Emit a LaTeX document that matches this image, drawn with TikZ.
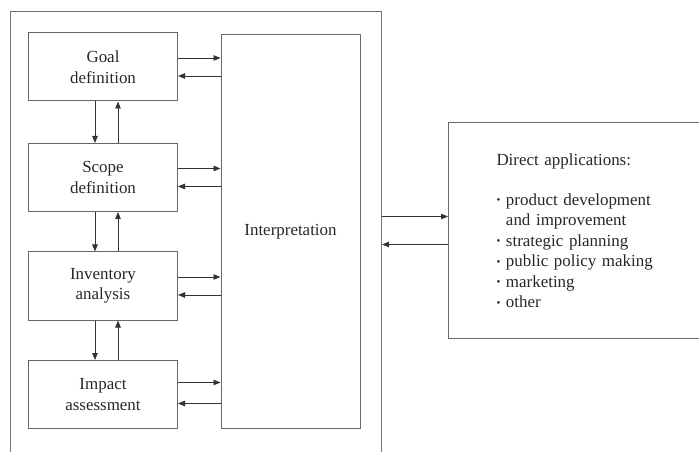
\documentclass[tikz,border=0pt]{standalone}
\usepackage{fontspec}
\setmainfont{Liberation Serif}
\usetikzlibrary{arrows.meta, positioning, calc}
\tikzset{
  stage/.style={rectangle, draw=black!60, line width=1bp, minimum width=149bp, minimum height=68bp, align=center, inner sep=2bp},
  tallbox/.style={rectangle, draw=black!60, line width=1bp, minimum width=139bp, minimum height=393bp},
  frame/.style={rectangle, draw=black!55, line width=1bp},
  appbox/.style={rectangle, draw=black!60, line width=1bp, anchor=west, align=left, inner xsep=48bp, text width=170bp, minimum height=215bp},
  arrowline/.style={-{Triangle[length=7bp,width=5.5bp]}, line width=0.8bp, draw=black!80},
}
\newcommand{\appitem}{\raisebox{1.5bp}{\fontsize{11}{11}\selectfont\textbullet}~}

\begin{document}
\begin{tikzpicture}[x=1bp, y=-1bp, font=\fontsize{17}{20.5}\selectfont, text=black!85]
\useasboundingbox (0,0) rectangle (699,452);
\clip (0,0) rectangle (699,452);

% outer frame (runs off the bottom)
\node[frame, minimum width=371bp, minimum height=480bp, anchor=north west] (frame) at (10,11) {};

\node[stage] (goal) at (103,67) {Goal\\definition};
\node[stage] (scope) at (103,177.5) {Scope\\definition};
\node[stage] (inventory) at (103,286) {Inventory\\analysis};
\node[stage] (impact) at (103,394.5) {Impact\\assessment};

\node[tallbox] (interp) at (290.5,231.5) {Interpretation};

\node[appbox] (apps) at (448,230.5) {Direct applications:\\[20bp]
  \appitem product development\\
  \phantom{\appitem}and improvement\\
  \appitem strategic planning\\
  \appitem public policy making\\
  \appitem marketing\\
  \appitem other\\[6bp]};

% stages down and back up
\draw[arrowline] ([xshift=-8bp]goal.south) -- ([xshift=-8bp]scope.north);
\draw[arrowline] ([xshift=15bp]scope.north) -- ([xshift=15bp]goal.south);
\draw[arrowline] ([xshift=-8bp]scope.south) -- ([xshift=-8bp]inventory.north);
\draw[arrowline] ([xshift=15bp]inventory.north) -- ([xshift=15bp]scope.south);
\draw[arrowline] ([xshift=-8bp]inventory.south) -- ([xshift=-8bp]impact.north);
\draw[arrowline] ([xshift=15bp]impact.north) -- ([xshift=15bp]inventory.south);

% stages to interpretation and back
\draw[arrowline] ([yshift=9bp]goal.east) -- ([yshift=9bp]interp.west |- goal.east);
\draw[arrowline] ([yshift=-9bp]interp.west |- goal.east) -- ([yshift=-9bp]goal.east);
\draw[arrowline] ([yshift=9bp]scope.east) -- ([yshift=9bp]interp.west |- scope.east);
\draw[arrowline] ([yshift=-9bp]interp.west |- scope.east) -- ([yshift=-9bp]scope.east);
\draw[arrowline] ([yshift=9bp]inventory.east) -- ([yshift=9bp]interp.west |- inventory.east);
\draw[arrowline] ([yshift=-9bp]interp.west |- inventory.east) -- ([yshift=-9bp]inventory.east);
\draw[arrowline] ([yshift=12bp]impact.east) -- ([yshift=12bp]interp.west |- impact.east);
\draw[arrowline] ([yshift=-9bp]interp.west |- impact.east) -- ([yshift=-9bp]impact.east);

% frame to direct applications
\draw[arrowline] ([yshift=14bp]frame.east |- apps.west) -- ([yshift=14bp]apps.west);
\draw[arrowline] ([yshift=-14bp]apps.west) -- ([yshift=-14bp]frame.east |- apps.west);
\end{tikzpicture}
\end{document}
